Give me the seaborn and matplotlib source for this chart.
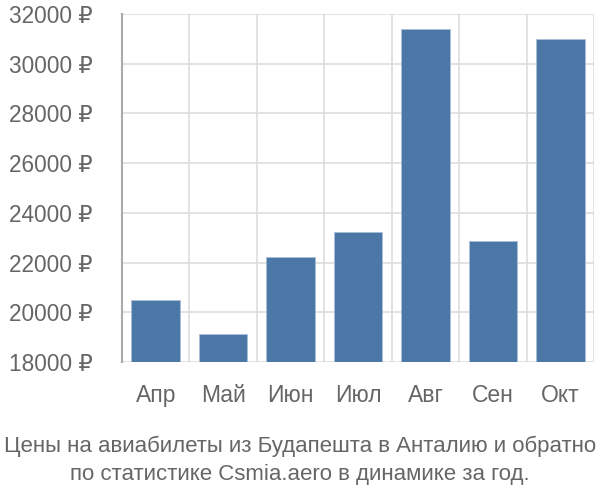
import matplotlib
matplotlib.use("Agg")
import matplotlib.pyplot as plt
import seaborn as sns
import pandas as pd
import numpy as np

months = ["Апр", "Май", "Июн", "Июл", "Авг", "Сен", "Окт"]
prices = [20490, 19130, 22220, 23230, 31410, 22880, 31010]
yticks = [18000, 20000, 22000, 24000, 26000, 28000, 30000, 32000]
caption = "Цены на авиабилеты из Будапешта в Анталию и обратно\nпо статистике Csmia.aero в динамике за год."

sns.set_style("white")
plt.rcParams["font.family"] = ["Liberation Sans", "DejaVu Sans"]

df = pd.DataFrame({"month": months, "price": prices})

fig = plt.figure(figsize=(6, 5), dpi=100)
ax = fig.add_axes([122/600, 1 - 362/500, 472/600, 348/500])
sns.barplot(data=df, x="month", y="price", color="#4c78a8", saturation=1,
            width=0.72, ax=ax, zorder=3, edgecolor="#a9bfd8", linewidth=0.6)

ax.set_ylim(18000, 32000)
ax.set_xlim(-0.5, len(months) - 0.5)
ax.set_yticks(yticks)
ax.set_yticklabels([f"{v} ₽" for v in yticks])
ax.set_xlabel("")
ax.set_ylabel("")

grid_c = "#dddddd"
ax.set_xticks(np.arange(-0.5, len(months)), minor=True)
ax.grid(True, which="minor", axis="x", color=grid_c, lw=1.2, zorder=0)
ax.grid(True, which="major", axis="y", color=grid_c, lw=1.2, zorder=0)
ax.tick_params(axis="x", which="major", length=0, pad=16, labelsize=16.5, labelcolor="#666666")
ax.tick_params(axis="x", which="minor", length=19, width=1.2, color=grid_c, direction="out")
ax.tick_params(axis="y", which="major", length=20, width=1.2, color=grid_c, pad=1,
               labelsize=16.3, labelcolor="#666666")

for s in ["top", "right", "bottom"]:
    ax.spines[s].set_visible(False)
ax.spines["left"].set_color("#aaaaaa")
ax.spines["left"].set_linewidth(1.5)
ax.spines["left"].set_bounds(18000, 32000)

fig.text(0.5, 1 - 460/500, caption, ha="center", va="center", fontsize=16,
         color="#666666", linespacing=1.45)

fig.savefig("out.png", dpi=100)
